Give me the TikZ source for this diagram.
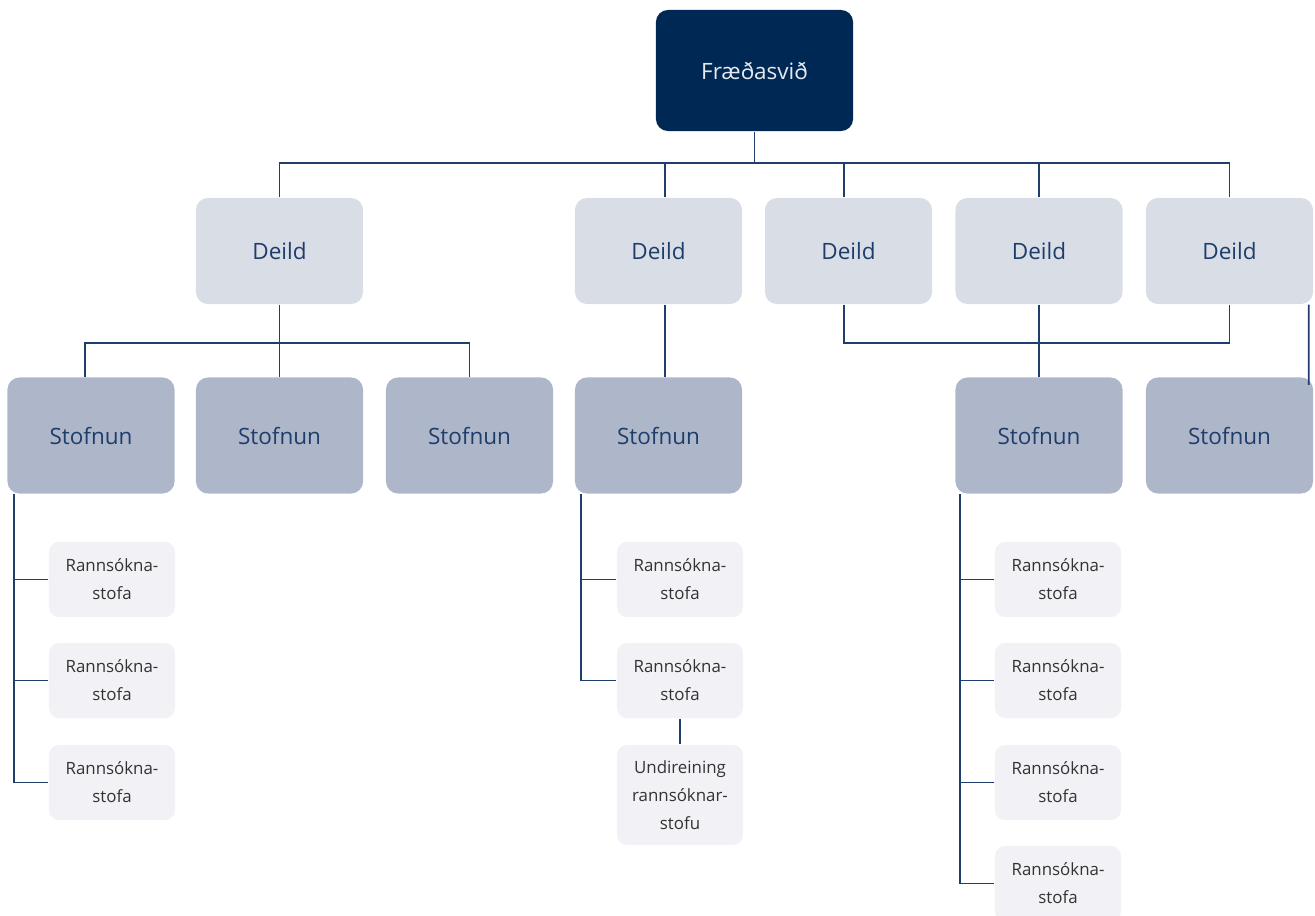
\documentclass[tikz,border=0pt]{standalone}
\usepackage{fontspec}
\setmainfont{Open Sans}
\definecolor{navy}{HTML}{002855}
\definecolor{svidtext}{HTML}{E6EAF0}
\definecolor{deildcol}{HTML}{D9DDE5}
\definecolor{stofcol}{HTML}{AEB7CA}
\definecolor{stofacol}{HTML}{F2F2F6}
\definecolor{textblue}{HTML}{1F3D6B}
\definecolor{textgrey}{HTML}{333333}
\definecolor{linecol}{HTML}{1F3D6D}
\begin{document}
\begin{tikzpicture}[x=0.01cm,y=-0.01cm,
  every node/.style={inner sep=0pt,align=center},
  line/.style={draw=linecol,line width=0.45pt},
  svid/.style={fill=navy,text=svidtext,rounded corners=0.12cm,minimum width=1.97cm,minimum height=1.21cm,font=\fontsize{6.4}{8}\selectfont},
  deild/.style={fill=deildcol,text=textblue,rounded corners=0.12cm,minimum width=1.67cm,minimum height=1.06cm,font=\fontsize{6.4}{8}\selectfont},
  stofnun/.style={deild,fill=stofcol,minimum height=1.16cm},
  stofa/.style={fill=stofacol,text=textgrey,rounded corners=0.1cm,minimum width=1.26cm,minimum height=0.75cm,font=\fontsize{4.8}{8}\selectfont}]
\useasboundingbox (0,0) rectangle (1315,915);

\node[svid] (fr) at (754.5,70.5) {Fræðasvið};

\node[deild] (d1) at (279.5,251) {Deild};
\node[deild] (d2) at (658.5,251) {Deild};
\node[deild] (d3) at (848.5,251) {Deild};
\node[deild] (d4) at (1039,251) {Deild};
\node[deild] (d5) at (1229.5,251) {Deild};

\node[stofnun] (s1) at (91,435.5) {Stofnun};
\node[stofnun] (s2) at (279.5,435.5) {Stofnun};
\node[stofnun] (s3) at (469.5,435.5) {Stofnun};
\node[stofnun] (s4) at (658.5,435.5) {Stofnun};
\node[stofnun] (s5) at (1039,435.5) {Stofnun};
\node[stofnun] (s6) at (1229.5,435.5) {Stofnun};

\node[stofa] (r1a) at (112,579.5) {Rannsókna-\\stofa};
\node[stofa] (r1b) at (112,680.5) {Rannsókna-\\stofa};
\node[stofa] (r1c) at (112,782.5) {Rannsókna-\\stofa};

\node[stofa] (r2a) at (680,579.5) {Rannsókna-\\stofa};
\node[stofa] (r2b) at (680,680.5) {Rannsókna-\\stofa};
\node[stofa,minimum height=1cm] (u) at (680,795) {Undireining\\rannsóknar-\\stofu};

\node[stofa] (r3a) at (1058,579.5) {Rannsókna-\\stofa};
\node[stofa] (r3b) at (1058,680.5) {Rannsókna-\\stofa};
\node[stofa] (r3c) at (1058,782.5) {Rannsókna-\\stofa};
\node[stofa] (r3d) at (1058,883.5) {Rannsókna-\\stofa};

% top level
\coordinate (bus) at (754.5,163);
\draw[line] (fr.south) -- (bus);
\draw[line] (d1.north) |- (d5.north |- bus) -- (d5.north);
\draw[line] ([xshift=0.065cm]d2.north) -- ([xshift=0.065cm]d2.north |- bus);
\draw[line] ([xshift=-0.045cm]d3.north) -- ([xshift=-0.045cm]d3.north |- bus);
\draw[line] (d4.north) -- (d4.north |- bus);

% deild -> stofnun
\coordinate (bus2) at (280,343);
\draw[line] (d1.south) -- (s2.north);
\draw[line] ([xshift=-0.06cm]s1.north) |- (s3.north |- bus2) -- (s3.north);
\draw[line] ([xshift=0.065cm]d2.south) -- ([xshift=0.065cm]s4.north);
\draw[line] ([xshift=-0.045cm]d3.south) |- (d5.south |- bus2) -- (d5.south);
\draw[line] (d4.south) -- (s5.north);
\draw[line] ([xshift=-0.05cm]d5.south east) -- ([shift={(-5,8)}]s6.north east);

% stofnun -> rannsoknastofur
\coordinate (t1) at ([xshift=0.07cm]s1.south west);
\draw[line] (t1) |- (r1c.west);
\foreach \n in {r1a,r1b}
  \draw[line] (\n.west) -- (\n.west -| t1);

\coordinate (t2) at ([xshift=0.07cm]s4.south west);
\draw[line] (t2) |- (r2b.west);
\draw[line] (r2a.west) -- (r2a.west -| t2);
\draw[line] (r2b.south) -- (u.north);

\coordinate (t3) at ([xshift=0.05cm]s5.south west);
\draw[line] (t3) |- (r3d.west);
\foreach \n in {r3a,r3b,r3c}
  \draw[line] (\n.west) -- (\n.west -| t3);
\end{tikzpicture}
\end{document}
